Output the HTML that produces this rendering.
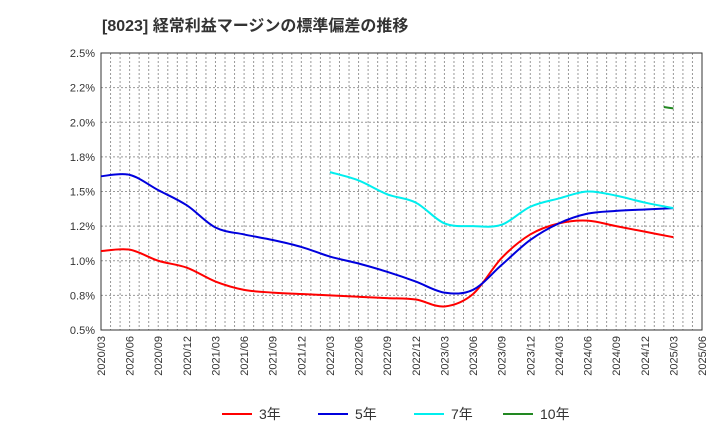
<!DOCTYPE html>
<html><head><meta charset="utf-8"><style>
body{margin:0;background:#fff;font-family:"Liberation Sans","Noto Sans CJK JP",sans-serif;}
svg text{font-family:"Liberation Sans","Noto Sans CJK JP",sans-serif;}
</style></head><body>
<svg id="c" width="720" height="440">
<text x="102" y="31" font-size="16" font-weight="bold" fill="#333">[8023]  経常利益マージンの標準偏差の推移</text>
<g id="grid"></g><g id="axes"></g><g id="series"></g><g id="legend"></g>
</svg>
<script>
const xLabels=["2020/03","2020/06","2020/09","2020/12","2021/03","2021/06","2021/09","2021/12","2022/03","2022/06","2022/09","2022/12","2023/03","2023/06","2023/09","2023/12","2024/03","2024/06","2024/09","2024/12","2025/03","2025/06"];
const yTicks=[0.5,0.75,1.0,1.25,1.5,1.75,2.0,2.25,2.5];
const yTickLabels=["0.5%","0.8%","1.0%","1.2%","1.5%","1.8%","2.0%","2.2%","2.5%"];
const s3=[1.07,1.08,1.0,0.95,0.85,0.79,0.77,0.76,0.75,0.74,0.73,0.72,0.67,0.76,1.02,1.19,1.27,1.29,1.25,1.21,1.17];
const s5=[1.61,1.62,1.51,1.40,1.24,1.19,1.15,1.10,1.03,0.98,0.92,0.85,0.77,0.79,0.97,1.15,1.27,1.34,1.36,1.37,1.38];
const s7=[null,null,null,null,null,null,null,null,1.64,1.58,1.48,1.42,1.27,1.25,1.26,1.39,1.45,1.50,1.47,1.42,1.38];
const s10Months=[59,60];
const s10=[2.11,2.10];
const NS="http://www.w3.org/2000/svg";
const X0=101,X1=702,Y0=53,Y1=330;
const xm=m=>X0+(X1-X0)*m/63;
const y=v=>Y1-(v-0.5)/2.0*(Y1-Y0);
function mk(t,a,p){const e=document.createElementNS(NS,t);for(const k in a)e.setAttribute(k,a[k]);p.appendChild(e);return e;}
const g=document.getElementById('grid');
for(let m=1;m<63;m++){const l=mk('line',{x1:xm(m),x2:xm(m),y1:Y0,y2:Y1,stroke:'#999','stroke-dasharray':'2,2','stroke-width':1},g);

}
yTicks.forEach((v,i)=>{const l=mk('line',{x1:X0,x2:X1,y1:y(v),y2:y(v),stroke:'#999','stroke-dasharray':'2,2'},g);


const t=mk('text',{x:X0-6,y:y(v)+4,'text-anchor':'end','font-size':11,fill:'#333'},g);t.textContent=yTickLabels[i];

});
const ax=document.getElementById('axes');
const r=mk('rect',{x:X0,y:Y0,width:X1-X0,height:Y1-Y0,fill:'none',stroke:'#333','stroke-width':1},ax);


xLabels.forEach((s,i)=>{const x=xm(i*3);const t=mk('text',{x:x+4,y:Y1+6,'text-anchor':'end','font-size':11,fill:'#333',transform:`rotate(-90 ${x+4} ${Y1+6})`},ax);t.textContent=s;

});
function path(pts){if(pts.length<2)return '';let d=`M${pts[0][0]},${pts[0][1]}`;
for(let i=0;i<pts.length-1;i++){const p0=pts[Math.max(0,i-1)],p1=pts[i],p2=pts[i+1],p3=pts[Math.min(pts.length-1,i+2)];
const k=6;d+=` C${p1[0]+(p2[0]-p0[0])/k},${p1[1]+(p2[1]-p0[1])/k} ${p2[0]-(p3[0]-p1[0])/k},${p2[1]-(p3[1]-p1[1])/k} ${p2[0]},${p2[1]}`;}return d;}
const se=document.getElementById('series');
function draw(vals,months,color,name){const pts=[];vals.forEach((v,i)=>{if(v!=null)pts.push([xm(months[i]),y(v)]);});
const p=mk('path',{d:path(pts),fill:'none',stroke:color,'stroke-width':2},se);

}
const q=s3.map((_,i)=>i*3);
draw(s3,q,'#ff0000','series-3y');draw(s5,q,'#0000dd','series-5y');draw(s7,q,'#00eeee','series-7y');draw(s10,s10Months,'#228822','series-10y');
const lg=document.getElementById('legend');
[["3年","#ff0000",222],["5年","#0000dd",318],["7年","#00eeee",414],["10年","#228822",503]].forEach(([n,c,x])=>{
const l=mk('line',{x1:x,x2:x+30,y1:414,y2:414,stroke:c,'stroke-width':2},lg);


const t=mk('text',{x:x+37,y:419,'font-size':14,fill:'#333'},lg);t.textContent=n;

});
</script>
</body></html>
